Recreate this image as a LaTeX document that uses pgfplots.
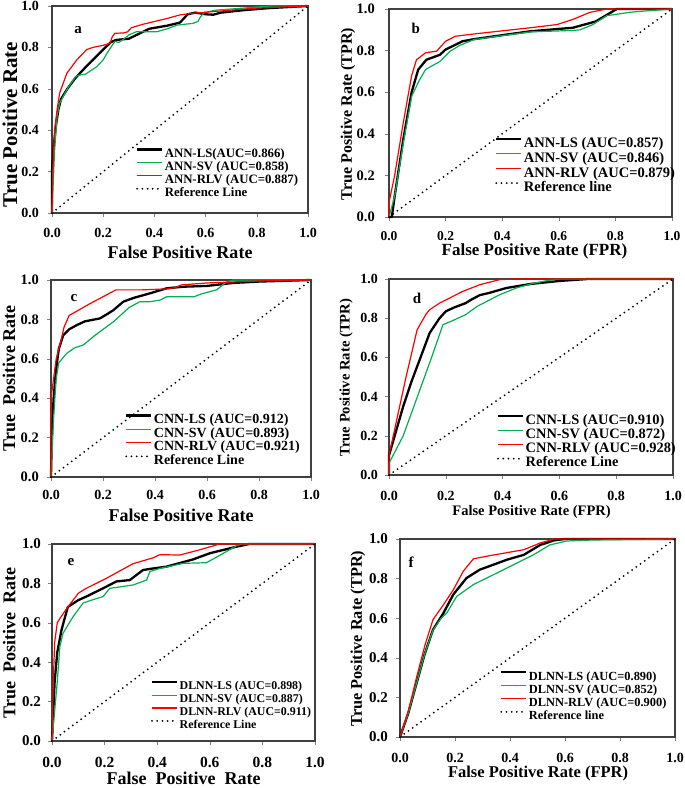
\documentclass[border=0pt]{standalone}
\usepackage{pgfplots}
\pgfplotsset{compat=1.18}
\usepackage{fontspec}
\setmainfont{Liberation Serif}
\newcommand\fs[1]{\fontsize{#1bp}{#1bp}\selectfont\bfseries}
\newcommand\lst[2]{\rule[-#2bp]{0pt}{#1bp}}
\definecolor{exgreen}{RGB}{0,176,80}
\pgfplotsset{
 roc/.style={
  scale only axis, anchor=north west,
  xmin=0,xmax=1,ymin=0,ymax=1,
  xtick={0,0.2,0.4,0.6,0.8,1}, ytick={0,0.2,0.4,0.6,0.8,1},
  xtick pos=bottom, ytick pos=left, tick align=outside, major tick length=4bp,
  tick style={black!50, line width=0.6bp},
  axis line style={black!75, line width=1.4bp},
  /pgf/number format/fixed, /pgf/number format/fixed zerofill,
  /pgf/number format/precision=1, /pgf/number format/assume math mode=true,
  legend cell align=left,
  legend style={draw=none, fill=none, inner sep=0pt, outer sep=0pt, anchor=north west,
    nodes={inner sep=0pt}, row sep=0pt,
    /tikz/every odd column/.append style={column sep=1.5bp}},
  legend image code/.code={\draw[##1] (0bp,0.28em) -- (25bp,0.28em);},
  clip=false,
 },
 leg/.style n args={3}{legend style={at={(axis description cs:#1,#2)},
    nodes={font=\fs{#3}}, font=\fs{#3}}},
 lsl/.style={black, line width=2.3bp, line join=round},
 svl/.style={exgreen, line width=1.2bp, line join=round},
 rlvl/.style={red, line width=1.2bp, line join=round},
 refl/.style={black, line width=2bp, line cap=round, dash pattern=on 0bp off 5.2bp},
 every axis label/.append style={inner sep=0pt},
}
\begin{document}
\begin{tikzpicture}
\useasboundingbox (0,0) rectangle (685bp,-788bp);
% ---------------- a
\begin{axis}[roc, at={(52bp,-6bp)}, width=256bp, height=207bp,
  xlabel={False Positive Rate}, ylabel={True Positive Rate},
  xlabel style={at={(axis description cs:0.5,-0.188)}, anchor=center, font=\fs{18}},
  ylabel style={at={(axis description cs:-0.164,0.428)}, anchor=center, font=\fs{21}},
  xticklabel style={font=\fs{14}, inner sep=0pt, yshift=-11bp},
  yticklabel style={font=\fs{14}, inner sep=0pt, xshift=-9bp},
  leg={0.328}{0.325}{12.8}]
\addplot[lsl] coordinates {(0,0)(0,0.2)(0.005,0.3)(0.015,0.42)(0.025,0.5)(0.035,0.55)(0.06,0.6)(0.09,0.65)(0.12,0.69)(0.16,0.74)(0.2,0.79)(0.23,0.825)(0.25,0.836)(0.3,0.842)(0.33,0.86)(0.38,0.89)(0.45,0.905)(0.5,0.92)(0.53,0.96)(0.56,0.968)(0.6,0.96)(0.63,0.958)(0.66,0.968)(0.75,0.98)(0.85,0.99)(1,1)};
\addlegendentry{\lst{14.7}{3.1}ANN-LS(AUC=0.866)}
\addplot[svl] coordinates {(0,0)(0.01,0.3)(0.02,0.47)(0.03,0.53)(0.06,0.6)(0.09,0.655)(0.1,0.665)(0.13,0.67)(0.175,0.707)(0.2,0.74)(0.214,0.77)(0.235,0.81)(0.247,0.83)(0.26,0.823)(0.28,0.84)(0.3,0.86)(0.33,0.876)(0.37,0.876)(0.41,0.876)(0.45,0.89)(0.49,0.908)(0.55,0.916)(0.57,0.925)(0.58,0.948)(0.595,0.968)(0.64,0.98)(0.75,0.99)(0.85,1)(1,1)};
\addlegendentry{\lst{14.7}{3.1}ANN-SV (AUC=0.858)}
\addplot[rlvl] coordinates {(0,0)(0.003,0.2)(0.01,0.4)(0.02,0.5)(0.03,0.58)(0.058,0.675)(0.097,0.74)(0.136,0.79)(0.16,0.8)(0.2,0.81)(0.227,0.82)(0.235,0.85)(0.245,0.868)(0.28,0.87)(0.295,0.875)(0.31,0.895)(0.35,0.91)(0.4,0.925)(0.45,0.94)(0.5,0.957)(0.55,0.965)(0.6,0.97)(0.7,0.98)(0.8,0.99)(0.9,0.995)(1,1)};
\addlegendentry{\lst{14.7}{3.1}ANN-RLV (AUC=0.887)}
\addplot[refl] coordinates {(0,0)(1,1)};
\addlegendentry{\lst{14.7}{3.1}Reference Line}
\node[font=\fs{15}] at (axis description cs:0.102,0.884) {a};
\end{axis}
% ---------------- b
\begin{axis}[roc, at={(389bp,-9bp)}, width=283bp, height=208bp,
  xlabel={False Positive Rate (FPR)}, ylabel={True Positive Rate (TPR)},
  xlabel style={at={(axis description cs:0.514,-0.166)}, anchor=center, font=\fs{17}},
  ylabel style={at={(axis description cs:-0.145,0.495)}, anchor=center, font=\fs{16}},
  xticklabel style={font=\fs{13.5}, inner sep=0pt, yshift=-10bp},
  yticklabel style={font=\fs{14.5}, inner sep=0pt, xshift=-10bp},
  leg={0.375}{0.396}{14.5}]
\addplot[lsl] coordinates {(0,0)(0.01,0)(0.02,0.1)(0.05,0.37)(0.08,0.6)(0.103,0.708)(0.132,0.756)(0.18,0.78)(0.2,0.805)(0.26,0.845)(0.3,0.855)(0.415,0.877)(0.5,0.893)(0.65,0.91)(0.73,0.94)(0.78,0.98)(0.805,1)(1,1)};
\addlegendentry{\lst{16.7}{3.55}ANN-LS (AUC=0.857)}
\addplot[svl] coordinates {(0,0)(0.02,0.1)(0.05,0.35)(0.08,0.58)(0.108,0.66)(0.13,0.71)(0.18,0.748)(0.215,0.796)(0.25,0.825)(0.3,0.853)(0.4,0.872)(0.5,0.89)(0.65,0.897)(0.675,0.9)(0.72,0.925)(0.77,0.968)(0.85,0.984)(0.9,0.99)(1,1)};
\addlegendentry{\lst{16.7}{3.55}ANN-SV (AUC=0.846)}
\addplot[rlvl] coordinates {(0,0)(0,0.07)(0.02,0.2)(0.05,0.45)(0.08,0.68)(0.097,0.756)(0.13,0.79)(0.168,0.797)(0.2,0.845)(0.235,0.869)(0.3,0.88)(0.4,0.895)(0.5,0.91)(0.593,0.925)(0.65,0.95)(0.71,0.984)(0.77,1)(1,1)};
\addlegendentry{\lst{16.7}{3.55}ANN-RLV (AUC=0.879)}
\addplot[refl] coordinates {(0,0)(1,1)};
\addlegendentry{\lst{16.7}{3.55}Reference line}
\node[font=\fs{15}] at (axis description cs:0.095,0.909) {b};
\end{axis}
% ---------------- c
\begin{axis}[roc, at={(51bp,-280bp)}, width=260bp, height=197bp,
  xlabel={False Positive Rate}, ylabel={True\ \ Positive Rate},
  xlabel style={at={(axis description cs:0.5,-0.193)}, anchor=center, font=\fs{18}},
  ylabel style={at={(axis description cs:-0.162,0.5)}, anchor=center, font=\fs{18}},
  xticklabel style={font=\fs{14}, inner sep=0pt, yshift=-9bp},
  yticklabel style={font=\fs{14.5}, inner sep=0pt, xshift=-8bp},
  leg={0.285}{0.332}{14}]
\addplot[lsl] coordinates {(0,0)(0.003,0.2)(0.01,0.4)(0.02,0.55)(0.03,0.65)(0.047,0.72)(0.07,0.75)(0.099,0.771)(0.13,0.79)(0.188,0.805)(0.22,0.83)(0.24,0.847)(0.278,0.89)(0.32,0.91)(0.38,0.932)(0.445,0.958)(0.51,0.966)(0.6,0.97)(0.7,0.985)(0.8,0.992)(1,1)};
\addlegendentry{\lst{15}{2.9}CNN-LS (AUC=0.912)}
\addplot[svl] coordinates {(0,0)(0.01,0.3)(0.02,0.5)(0.03,0.58)(0.06,0.627)(0.09,0.655)(0.124,0.67)(0.17,0.72)(0.24,0.788)(0.3,0.86)(0.342,0.89)(0.38,0.89)(0.42,0.898)(0.445,0.915)(0.55,0.915)(0.58,0.93)(0.637,0.95)(0.675,0.99)(0.7,1)(1,1)};
\addlegendentry{\lst{15}{2.9}CNN-SV (AUC=0.893)}
\addplot[rlvl] coordinates {(0,0)(0,0.4)(0.02,0.6)(0.04,0.7)(0.05,0.76)(0.07,0.82)(0.15,0.88)(0.25,0.95)(0.35,0.95)(0.45,0.955)(0.48,0.962)(0.5,0.975)(0.6,0.985)(0.7,0.99)(0.8,0.995)(1,1)};
\addlegendentry{\lst{15}{2.9}CNN-RLV (AUC=0.921)}
\addplot[refl] coordinates {(0,0)(1,1)};
\addlegendentry{\lst{15}{2.9}Reference Line}
\node[font=\fs{15}] at (axis description cs:0.088,0.909) {c};
\end{axis}
% ---------------- d
\begin{axis}[roc, at={(389bp,-279bp)}, width=284bp, height=196bp,
  xlabel={False Positive Rate (FPR)}, ylabel={True Positive Rate (TPR)},
  xlabel style={at={(axis description cs:0.502,-0.191)}, anchor=center, font=\fs{14.5}},
  ylabel style={at={(axis description cs:-0.151,0.497)}, anchor=center, font=\fs{14.6}},
  xticklabel style={font=\fs{14}, inner sep=0pt, yshift=-12bp},
  yticklabel style={font=\fs{14}, inner sep=0pt, xshift=-7bp},
  leg={0.38}{0.321}{14.4}]
\addplot[lsl] coordinates {(0,0)(0,0.1)(0.02,0.2)(0.05,0.35)(0.08,0.48)(0.108,0.588)(0.143,0.724)(0.178,0.8)(0.2,0.835)(0.23,0.855)(0.27,0.877)(0.29,0.895)(0.32,0.918)(0.35,0.928)(0.413,0.954)(0.45,0.963)(0.5,0.975)(0.6,0.99)(0.7,1)(1,1)};
\addlegendentry{\lst{15.7}{3.1}CNN-LS (AUC=0.910)}
\addplot[svl] coordinates {(0,0)(0,0.06)(0.05,0.2)(0.1,0.4)(0.15,0.6)(0.19,0.767)(0.22,0.785)(0.27,0.818)(0.31,0.86)(0.39,0.92)(0.45,0.955)(0.5,0.975)(0.55,0.99)(0.6,1)(1,1)};
\addlegendentry{\lst{15.7}{3.1}CNN-SV (AUC=0.872)}
\addplot[rlvl] coordinates {(0,0)(0,0.1)(0.03,0.3)(0.06,0.5)(0.099,0.741)(0.13,0.82)(0.143,0.843)(0.178,0.877)(0.26,0.937)(0.32,0.971)(0.39,0.997)(0.45,1)(1,1)};
\addlegendentry{\lst{15.7}{3.1}CNN-RLV (AUC=0.928)}
\addplot[refl] coordinates {(0,0)(1,1)};
\addlegendentry{\lst{15.7}{3.1}Reference Line}
\node[font=\fs{15}] at (axis description cs:0.099,0.903) {d};
\end{axis}
% ---------------- e
\begin{axis}[roc, at={(52bp,-544bp)}, width=263bp, height=197bp,
  xlabel={False\ \ Positive\ \ Rate}, ylabel={True\ \ Positive\ \ Rate},
  xlabel style={at={(axis description cs:0.5,-0.19)}, anchor=center, font=\fs{18}},
  ylabel style={at={(axis description cs:-0.163,0.497)}, anchor=center, font=\fs{18}},
  xticklabel style={font=\fs{15.5}, inner sep=0pt, yshift=-12bp},
  yticklabel style={font=\fs{15}, inner sep=0pt, xshift=-7bp},
  leg={0.376}{0.317}{11.9}]
\addplot[lsl] coordinates {(0,0)(0.01,0.3)(0.02,0.45)(0.036,0.563)(0.06,0.68)(0.1,0.715)(0.13,0.733)(0.194,0.775)(0.245,0.81)(0.296,0.817)(0.346,0.868)(0.38,0.875)(0.435,0.885)(0.537,0.922)(0.6,0.953)(0.7,0.986)(0.75,1)(1,1)};
\addlegendentry{\lst{15}{3.6}DLNN-LS (AUC=0.898)}
\addplot[svl] coordinates {(0,0)(0.02,0.3)(0.03,0.48)(0.042,0.547)(0.08,0.631)(0.118,0.7)(0.15,0.715)(0.194,0.733)(0.22,0.775)(0.308,0.792)(0.36,0.817)(0.372,0.86)(0.41,0.876)(0.5,0.902)(0.587,0.905)(0.64,0.944)(0.7,0.99)(0.72,1)(1,1)};
\addlegendentry{\lst{15}{3.6}DLNN-SV (AUC=0.887)}
\addplot[rlvl] coordinates {(0,0)(0.005,0.3)(0.01,0.5)(0.02,0.6)(0.03,0.622)(0.06,0.68)(0.1,0.75)(0.13,0.775)(0.207,0.826)(0.308,0.9)(0.385,0.93)(0.41,0.946)(0.486,0.944)(0.56,0.97)(0.638,1)(1,1)};
\addlegendentry{\lst{15}{3.6}DLNN-RLV (AUC=0.911)}
\addplot[refl] coordinates {(0,0)(1,1)};
\addlegendentry{\lst{15}{3.6}Reference Line}
\node[font=\fs{15}] at (axis description cs:0.072,0.909) {e};
\end{axis}
% ---------------- f
\begin{axis}[roc, at={(400bp,-539bp)}, width=275bp, height=198bp,
  xlabel={False Positive Rate (FPR)}, ylabel={True Positive Rate (TPR)},
  xlabel style={at={(axis description cs:0.502,-0.183)}, anchor=center, font=\fs{16.5}},
  ylabel style={at={(axis description cs:-0.153,0.497)}, anchor=center, font=\fs{16.3}},
  xticklabel style={font=\fs{14}, inner sep=0pt, yshift=-12bp},
  yticklabel style={font=\fs{15}, inner sep=0pt, xshift=-8bp},
  leg={0.364}{0.347}{12.4}]
\addplot[lsl] coordinates {(0,0)(0.03,0.12)(0.06,0.27)(0.09,0.42)(0.12,0.542)(0.158,0.626)(0.194,0.72)(0.242,0.803)(0.29,0.845)(0.39,0.896)(0.45,0.92)(0.51,0.97)(0.56,0.993)(0.6,1)(1,1)};
\addlegendentry{\lst{15.3}{3.55}DLNN-LS (AUC=0.890)}
\addplot[svl] coordinates {(0,0)(0.03,0.12)(0.06,0.27)(0.09,0.42)(0.12,0.54)(0.15,0.6)(0.17,0.626)(0.206,0.71)(0.267,0.77)(0.39,0.854)(0.485,0.92)(0.545,0.97)(0.606,0.99)(0.7,0.995)(1,1)};
\addlegendentry{\lst{15.3}{3.55}DLNN-SV (AUC=0.852)}
\addplot[rlvl] coordinates {(0,0)(0.03,0.13)(0.06,0.3)(0.09,0.46)(0.12,0.593)(0.158,0.668)(0.194,0.744)(0.23,0.837)(0.267,0.9)(0.327,0.916)(0.45,0.946)(0.51,0.98)(0.56,1)(1,1)};
\addlegendentry{\lst{15.3}{3.55}DLNN-RLV (AUC=0.900)}
\addplot[refl] coordinates {(0,0)(1,1)};
\addlegendentry{\lst{15.3}{3.55}Reference line}
\node[font=\fs{15}] at (axis description cs:0.04,0.884) {f};
\end{axis}
\end{tikzpicture}
\end{document}
